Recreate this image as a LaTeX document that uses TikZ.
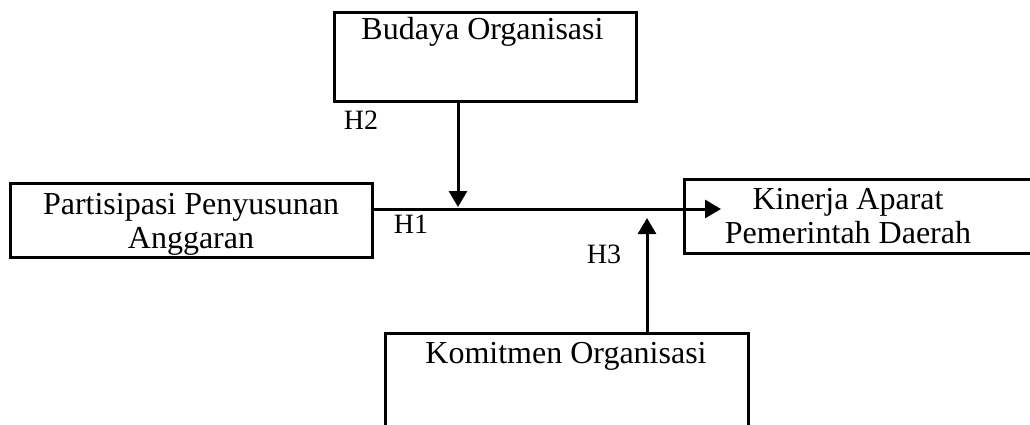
\documentclass[tikz,border=0pt]{standalone}
\usepackage{fontspec}
\setmainfont{Liberation Serif}
\usetikzlibrary{arrows.meta}

\tikzset{
  varbox/.style={rectangle, draw, line width=3pt, inner sep=0pt},
  vartext/.style={font=\fontsize{32}{33.5}\selectfont, align=center, anchor=base, inner sep=0pt},
  hlabel/.style={font=\fontsize{28}{30}\selectfont, inner sep=0pt},
  link/.style={-{Triangle[length=16pt,width=18pt]}, line width=3pt},
}

\begin{document}
\begin{tikzpicture}[x=1pt, y=-1pt]
\useasboundingbox (0,0) rectangle (1030,425);

\node[varbox, minimum width=302, minimum height=89] (budaya) at (485,57.5) {};
\node[varbox, minimum width=362, minimum height=74] (partisipasi) at (191,220) {};
\node[varbox, minimum width=361, minimum height=74] (kinerja) at (864.5,216) {};
\node[varbox, minimum width=363, minimum height=117] (komitmen) at (566.5,391.5) {};

\node[vartext] (budayatxt) at (482.5,40) {Budaya Organisasi};
\node[vartext] (partisipasitxt) at (191,248) {Partisipasi Penyusunan\\Anggaran};
\node[vartext] (kinerjatxt) at (848,243) {Kinerja Aparat\\Pemerintah Daerah};
\node[vartext] (komitmentxt) at (566,363) {Komitmen Organisasi};

\coordinate (h1end) at (721,209);
\coordinate (h2end) at (458,207);
\coordinate (h3end) at (647,218);

\draw[link] (partisipasi.east |- h1end) -- (h1end);
\draw[link] (budaya.south -| h2end) -- (h2end);
\draw[link] (komitmen.north -| h3end) -- (h3end);

\node[hlabel] (h2) at (361,120) {H2};
\node[hlabel] (h1) at (411,224) {H1};
\node[hlabel] (h3) at (604,254) {H3};

\end{tikzpicture}
\end{document}
